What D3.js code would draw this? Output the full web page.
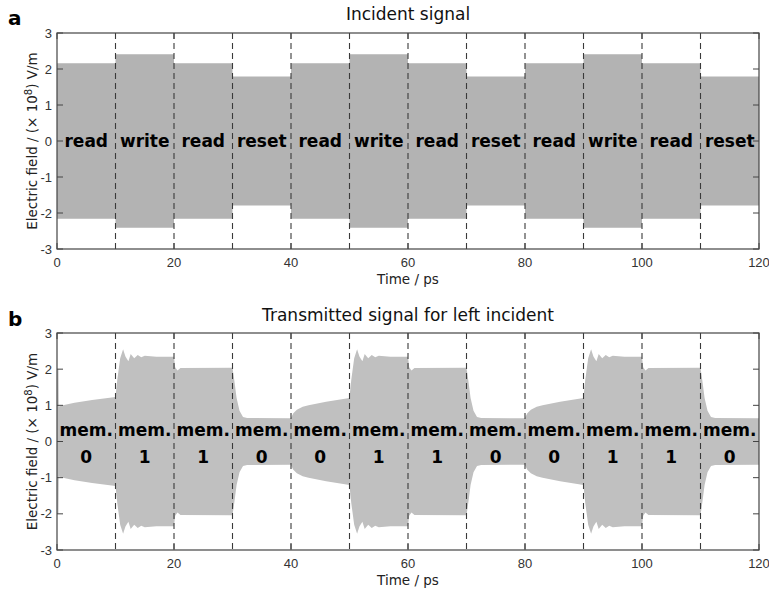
<!DOCTYPE html>
<html>
<head>
<meta charset="utf-8">
<script src="https://cdn.jsdelivr.net/npm/d3@7/dist/d3.min.js"></script>
<style>
body { margin: 0; background: #fff; }
svg { display: block; }
.tick-label { font-family: "Liberation Sans", Arial, sans-serif; font-size: 13px; fill: #333; }
.title { font-family: "DejaVu Sans", sans-serif; font-size: 17px; fill: #111; }
.xlabel, .ylabel { font-family: "DejaVu Sans", sans-serif; font-size: 13.5px; fill: #222; }
.seg { font-family: "DejaVu Sans", sans-serif; font-weight: bold; font-size: 17px; fill: #000; }
.panel { font-family: "DejaVu Sans", sans-serif; font-weight: bold; font-size: 20px; fill: #000; }
</style>
</head>
<body>
<svg width="769" height="596"></svg>
<script>
var svg = d3.select("svg");

// segment boundaries (ps) and operations
var segStart = [0, 10, 20, 30, 40, 50, 60, 70, 80, 90, 100, 110];
var operations = ["read", "write", "read", "reset", "read", "write", "read", "reset", "read", "write", "read", "reset"];
var memState = ["0", "1", "1", "0", "0", "1", "1", "0", "0", "1", "1", "0"];

// incident envelope amplitude per segment (x 10^8 V/m)
var incidentAmp = [2.16, 2.41, 2.16, 1.79, 2.16, 2.41, 2.16, 1.79, 2.16, 2.41, 2.16, 1.79];

// transmitted envelope shapes: [time offset in segment, amplitude]
var firstRead = [[0, 2.0], [0.25, 2.0], [0.3, 0.97], [1, 1.0], [3, 1.07], [6, 1.15], [10, 1.23]];
var writeShape = [[0, 1.23], [0.3, 1.7], [0.8, 2.3], [1.3, 2.55], [1.7, 2.35], [2.2, 2.22], [2.6, 2.42], [3.2, 2.3], [3.8, 2.39], [4.4, 2.33], [5, 2.37], [7, 2.34], [10, 2.34]];
var readOneShape = [[0, 2.34], [0.2, 2.05], [0.6, 1.96], [1.1, 2.03], [10, 2.04]];
var resetShape = [[0, 2.04], [0.3, 1.7], [0.7, 1.2], [1.2, 0.85], [1.8, 0.68], [2.5, 0.65], [10, 0.64]];
var readZeroShape = [[0, 0.66], [0.4, 0.78], [1, 0.88], [2, 0.96], [3, 1.0], [6, 1.1], [10, 1.2]];

var xTicks = [0, 20, 40, 60, 80, 100, 120];
var yTicks = [-3, -2, -1, 0, 1, 2, 3];

var shapes = [firstRead, writeShape, readOneShape, resetShape, readZeroShape, writeShape, readOneShape, resetShape, readZeroShape, writeShape, readOneShape, resetShape];

var x = d3.scaleLinear().domain([0, 120]).range([57, 759]);

function panel(top, bottom) {
  return d3.scaleLinear().domain([-3, 3]).range([bottom, top]);
}

var yA = panel(33, 249),
    yB = panel(333, 550);

var incidentPts = [];
segStart.forEach(function(t, i) {
  incidentPts.push([t, incidentAmp[i]]);
  incidentPts.push([t + 10, incidentAmp[i]]);
});

var transmittedPts = [];
segStart.forEach(function(t, i) {
  shapes[i].forEach(function(p) { transmittedPts.push([t + p[0], p[1]]); });
});

function drawPanel(y, pts, fill, title, letter, letterY, titleY) {
  var g = svg.append("g");

  g.append("path")
    .datum(pts)
    .attr("fill", fill)
    .attr("d", d3.area()
      .x(function(d) { return x(d[0]); })
      .y0(function(d) { return y(-d[1]); })
      .y1(function(d) { return y(d[1]); }));

  // dashed segment separators
  g.selectAll(".sep")
    .data(segStart.slice(1))
    .enter().append("line")
    .attr("x1", function(d) { return x(d); })
    .attr("x2", function(d) { return x(d); })
    .attr("y1", y(3)).attr("y2", y(-3))
    .attr("stroke", "#3a3a3a")
    .attr("stroke-width", 1.1)
    .attr("stroke-dasharray", "6,4");

  // ticks (inward, top/bottom/left/right)
  xTicks.forEach(function(t) {
    g.append("line").attr("x1", x(t)).attr("x2", x(t)).attr("y1", y(-3)).attr("y2", y(-3) - 6).attr("stroke", "#444");
    g.append("line").attr("x1", x(t)).attr("x2", x(t)).attr("y1", y(3)).attr("y2", y(3) + 6).attr("stroke", "#444");
    g.append("text").attr("class", "tick-label")
      .attr("x", x(t)).attr("y", y(-3) + 18)
      .attr("text-anchor", "middle").text(t);
  });
  yTicks.forEach(function(v) {
    g.append("line").attr("x1", x(0)).attr("x2", x(0) + 6).attr("y1", y(v)).attr("y2", y(v)).attr("stroke", "#444");
    g.append("line").attr("x1", x(120)).attr("x2", x(120) - 6).attr("y1", y(v)).attr("y2", y(v)).attr("stroke", "#444");
    g.append("text").attr("class", "tick-label")
      .attr("x", x(0) - 5).attr("y", y(v) + 4.5)
      .attr("text-anchor", "end").text(v);
  });

  g.append("rect")
    .attr("x", x(0)).attr("y", y(3))
    .attr("width", x(120) - x(0)).attr("height", y(-3) - y(3))
    .attr("fill", "none").attr("stroke", "#444").attr("stroke-width", 1.2);

  g.append("text").attr("class", "title")
    .attr("x", (x(0) + x(120)) / 2).attr("y", titleY)
    .attr("text-anchor", "middle").text(title);

  g.append("text").attr("class", "xlabel")
    .attr("x", (x(0) + x(120)) / 2).attr("y", y(-3) + 35)
    .attr("text-anchor", "middle").text("Time / ps");

  var yl = g.append("text").attr("class", "ylabel")
    .attr("transform", "translate(37," + y(0) + ") rotate(-90)")
    .attr("text-anchor", "middle");
  yl.append("tspan").text("Electric field / (\u00d7 10");
  yl.append("tspan").attr("dy", -5).attr("font-size", "10px").text("8");
  yl.append("tspan").attr("dy", 5).text(") V/m");

  g.append("text").attr("class", "panel")
    .attr("x", 8).attr("y", letterY).text(letter);

  return g;
}

var gA = drawPanel(yA, incidentPts, "#b3b3b3", "Incident signal", "a", 25, 20);
var gB = drawPanel(yB, transmittedPts, "#c0c0c0", "Transmitted signal for left incident", "b", 326, 321);

gA.selectAll(".seg")
  .data(operations)
  .enter().append("text")
  .attr("class", "seg")
  .attr("x", function(d, i) { return x(segStart[i] + 5); })
  .attr("y", 147)
  .attr("text-anchor", "middle")
  .text(function(d) { return d; });

gB.selectAll(".mem")
  .data(memState)
  .enter().append("text")
  .attr("class", "seg")
  .attr("x", function(d, i) { return x(segStart[i] + 5); })
  .attr("y", 436)
  .attr("text-anchor", "middle")
  .text("mem.");

gB.selectAll(".state")
  .data(memState)
  .enter().append("text")
  .attr("class", "seg")
  .attr("x", function(d, i) { return x(segStart[i] + 5); })
  .attr("y", 463)
  .attr("text-anchor", "middle")
  .attr("font-size", "20px")
  .text(function(d) { return d; });
</script>
</body>
</html>
